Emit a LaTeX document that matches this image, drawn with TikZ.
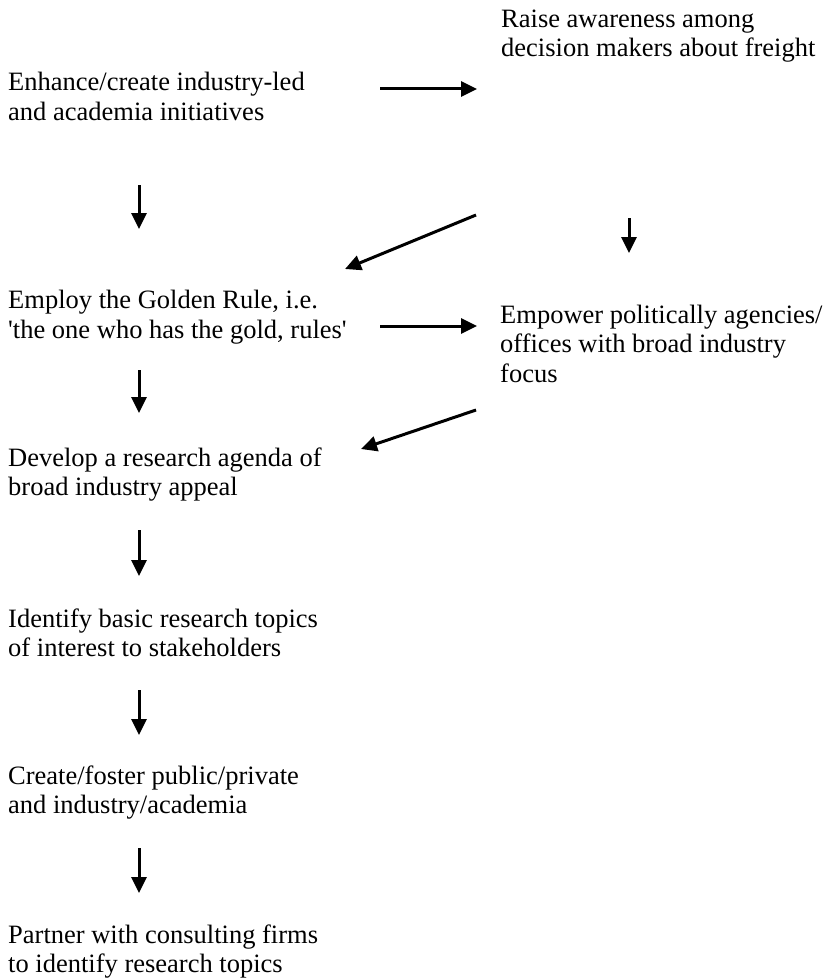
\documentclass[tikz,border=0pt]{standalone}
\usepackage{fontspec}
\setmainfont{Liberation Serif}
\usepackage{tikz}
\usetikzlibrary{arrows.meta,positioning}

\begin{document}
\begin{tikzpicture}[x=1pt, y=-1pt,
      step text/.style={anchor=base west, inner sep=0, align=left,
            font=\fontsize{26.5}{29.5}\selectfont},
      flow/.style={line width=3pt, -{Triangle[length=16pt, width=15pt]}}]
      \useasboundingbox (0, 0) rectangle (824, 979);
      % positions are the baselines of the last lines
      \draw (501, 56.8) node (raise) [step text] {Raise awareness among\\decision makers about freight}
            (8, 120.2) node (enhance) [step text] {Enhance/create industry-led\\and academia initiatives}
            (8, 338) node (golden) [step text] {Employ the Golden Rule, i.e.\\\textquotesingle the one who has the gold, rules\textquotesingle}
            (500, 382) node (empower) [step text] {Empower politically agencies/\\offices with broad industry\\focus}
            (8, 495.5) node (agenda) [step text] {Develop a research agenda of\\broad industry appeal}
            (8, 656.5) node (topics) [step text] {Identify basic research topics\\of interest to stakeholders}
            (8, 813.5) node (foster) [step text] {Create/foster public/private\\and industry/academia}
            (8, 972.5) node (partner) [step text] {Partner with consulting firms\\to identify research topics};
      % arrow ends
      \coordinate (h1a) at (380, 89);   \coordinate (h1b) at (477, 89);
      \coordinate (d1a) at (476, 215);  \coordinate (d1b) at (345, 269);
      \coordinate (v1a) at (139, 185);  \coordinate (v1b) at (139, 229);
      \coordinate (vra) at (629, 218);  \coordinate (vrb) at (629, 253);
      \coordinate (h2a) at (380, 326);  \coordinate (h2b) at (477, 326);
      \coordinate (v2a) at (139, 370);  \coordinate (v2b) at (139, 413);
      \coordinate (d2a) at (476, 410);  \coordinate (d2b) at (361, 449);
      \coordinate (v3a) at (139, 530);  \coordinate (v3b) at (139, 576);
      \coordinate (v4a) at (139, 690);  \coordinate (v4b) at (139, 735);
      \coordinate (v5a) at (139, 848);  \coordinate (v5b) at (139, 893);
      \path[flow] (h1a) edge (h1b)
                  (d1a) edge (d1b)
                  (v1a) edge (v1b)
                  (vra) edge (vrb)
                  (h2a) edge (h2b)
                  (v2a) edge (v2b)
                  (d2a) edge (d2b)
                  (v3a) edge (v3b)
                  (v4a) edge (v4b)
                  (v5a) edge (v5b);
\end{tikzpicture}
\end{document}
